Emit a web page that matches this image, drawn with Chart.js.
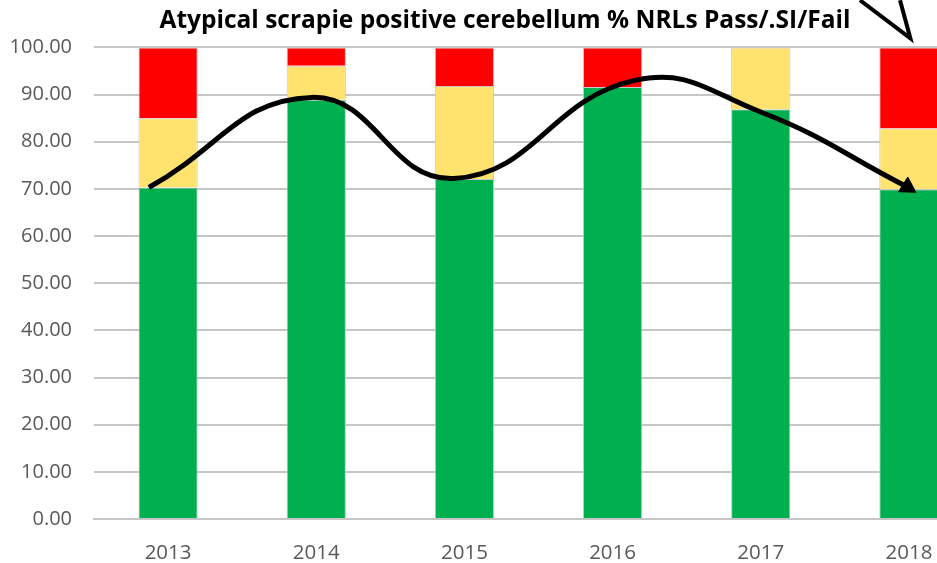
<!DOCTYPE html>
<html>
<head>
<meta charset="utf-8">
<script src="https://cdn.jsdelivr.net/npm/chart.js@4/dist/chart.umd.min.js"></script>
<style>
  html, body { margin: 0; padding: 0; background: #fff; overflow: hidden; }
  #wrap { width: 1010px; height: 563px; }
</style>
</head>
<body>
<div id="wrap"><canvas id="chart" width="1010" height="563"></canvas></div>
<script>
var years = ["2013", "2014", "2015", "2016", "2017", "2018"];
var passData = [70.3, 88.9, 72.1, 91.6, 86.9, 69.9];
var siData   = [14.7, 7.2, 19.7, 0, 13.1, 12.9];
var failData = [15.0, 3.9, 8.2, 8.4, 0, 17.2];

// hand drawn trend arrow (x in years, y in %)
var trendX = [2012.87, 2013.97, 2014.93, 2016.15, 2017.0, 2017.99];
var trendY = [70.3, 89.4, 72.2, 93.0, 86.3, 70.4];

// tip of another arrow poking in at the top right
var tipX = [2017.67, 2018.01, 2017.94];
var tipY = [110, 101.9, 110];

function pts(xs, ys) {
  return xs.map(function(x, i) { return { x: x, y: ys[i] }; });
}

function barSet(label, data, color) {
  return {
    label: label,
    data: data,
    backgroundColor: color,
    borderColor: '#c8c8c8',
    borderWidth: 1,
    barPercentage: 0.4,
    categoryPercentage: 1,
    grouped: false,
    order: 3
  };
}

var chart = new Chart('chart', {
  type: 'bar',
  data: {
    labels: years,
    datasets: [
      barSet('Pass', passData, '#00B050'),
      barSet('SI', siData, '#FFE36E'),
      barSet('Fail', failData, '#FF0000'),
      {
        type: 'line',
        label: 'trend',
        data: pts(trendX, trendY),
        xAxisID: 'xc',
        yAxisID: 'y2',
        borderColor: '#000',
        borderWidth: 5,
        tension: 0.45,
        pointRadius: [0, 0, 0, 0, 0, 10],
        pointStyle: 'triangle',
        rotation: 122,
        pointBackgroundColor: '#000',
        pointBorderColor: '#000',
        pointBorderWidth: 1,
        clip: false,
        order: 1
      },
      {
        type: 'line',
        label: 'tip',
        data: pts(tipX, tipY),
        xAxisID: 'xc',
        yAxisID: 'y2',
        borderColor: '#000',
        borderWidth: 4,
        tension: 0,
        pointRadius: 0,
        clip: false,
        order: 1
      }
    ]
  },
  options: {
    responsive: false,
    animation: false,
    layout: { padding: 0 },
    plugins: {
      legend: { display: false },
      tooltip: { enabled: false },
      title: {
        display: true,
        text: 'Atypical scrapie positive cerebellum % NRLs Pass/.SI/Fail',
        color: '#000',
        font: { family: 'Open Sans', size: 24.5, weight: 'bold' },
        padding: { top: 6, bottom: 12 }
      }
    },
    scales: {
      x: {
        stacked: true,
        offset: true,
        grid: { display: false },
        border: { color: '#c6c6c6', width: 2 },
        ticks: { color: '#595959', font: { family: 'Open Sans', size: 20.5 }, padding: 14 },
        afterFit: function(s) { s.height = 44; }
      },
      xc: {
        type: 'linear',
        display: false,
        offset: false,
        bounds: 'data',
        min: 2012.5,
        max: 2018.5
      },
      y: {
        stacked: true,
        min: 0,
        max: 100,
        grid: { color: '#c6c6c6', lineWidth: 2, drawTicks: false },
        border: { display: false },
        ticks: {
          stepSize: 10,
          color: '#595959',
          font: { family: 'Open Sans', size: 20 },
          padding: 22,
          callback: function(v) { return v.toFixed(2); }
        },
        afterFit: function(s) { s.width = 94; }
      },
      y2: {
        position: 'right',
        min: 0,
        max: 100,
        grid: { display: false },
        border: { display: false },
        ticks: { display: false },
        afterFit: function(s) { s.width = 27; }
      }
    }
  }
});
</script>
</body>
</html>
